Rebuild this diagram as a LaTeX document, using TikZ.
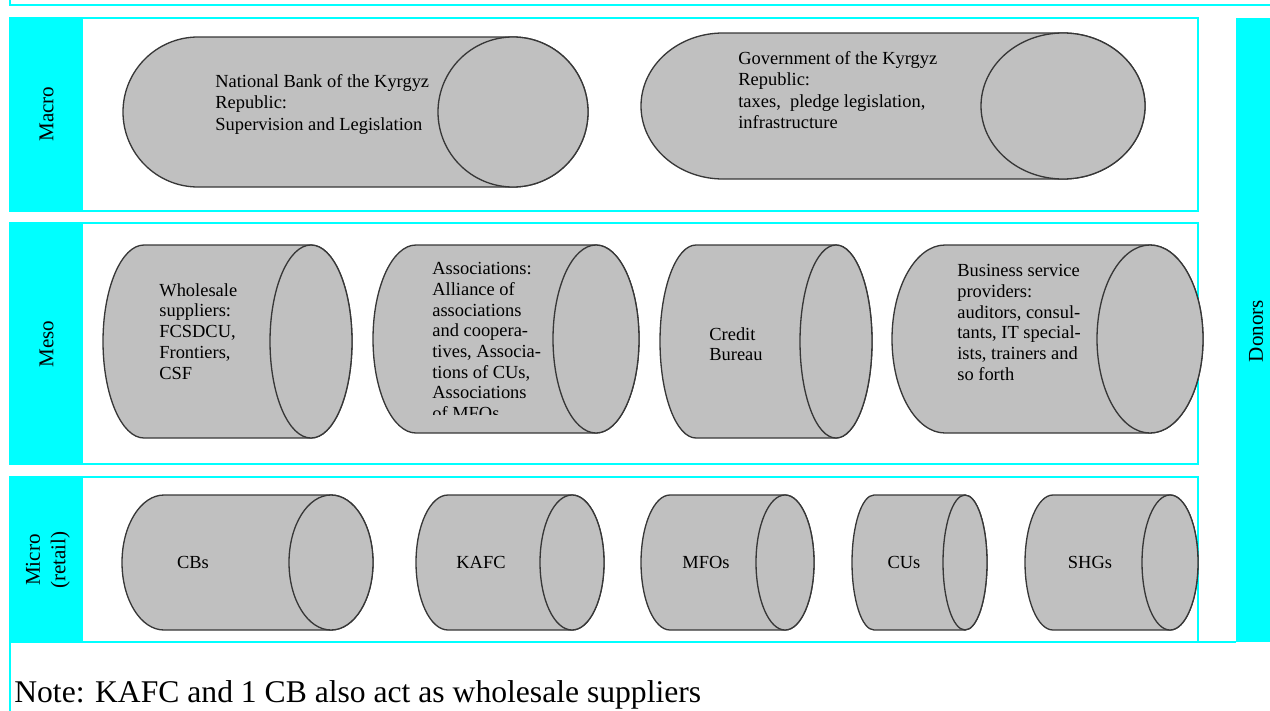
\documentclass[tikz,border=0pt]{standalone}
\usepackage{fontspec}
\setmainfont{Liberation Serif}
\usetikzlibrary{positioning}
\definecolor{cyanVif}{RGB}{0,255,255}
\definecolor{grisFut}{RGB}{192,192,192}
\definecolor{grisTrait}{RGB}{55,55,55}

% cylindre couche : bord gauche, bord droit, centre y, rayon x, rayon y
\newcommand{\cylindre}[5]{%
  \filldraw[tube] (#2-#4,#3-#5) -- (#1+#4,#3-#5)
    arc[start angle=270,end angle=90,x radius=#4,y radius=#5]
    -- (#2-#4,#3+#5)
    arc[start angle=90,end angle=-90,x radius=#4,y radius=#5] -- cycle;
  \draw[tube] (#2-#4,#3) ellipse[x radius=#4,y radius=#5];}

\begin{document}
\begin{tikzpicture}[x=0.02cm, y=-0.02cm,
  cadre/.style={draw=cyanVif, line width=1.1pt},
  bande/.style={fill=cyanVif},
  tube/.style={fill=grisFut, draw=grisTrait, line width=0.75pt},
  etiq/.style={rotate=90, align=center, inner sep=0pt,
               font=\fontsize{12}{14.5}\selectfont},
  texte/.style={anchor=north west, inner sep=0pt, align=left,
                font=\fontsize{10.5}{11.8}\selectfont},
  court/.style={inner sep=0pt, font=\fontsize{10.5}{12}\selectfont}]

  \useasboundingbox (0,0) rectangle (1270,710);

  % bord du cadre precedent
  \draw[cadre] (10,-5) -- (10,5) -- (1280,5);

  % bandes
  \fill[bande] (10,18) rectangle (83,211);
  \fill[bande] (10,223) rectangle (83,464);
  \fill[bande] (10,477) rectangle (83,642);
  \fill[bande] (1236,18) rectangle (1290,642);

  % niveaux
  \draw[cadre] (10,18) rectangle (1198,211);
  \draw[cadre] (10,223) rectangle (1198,464);
  \draw[cadre] (10,477) rectangle (1198,642);
  \draw[cadre] (10,720) -- (10,642) -- (1236,642);

  \node[etiq] (macro) at (46.5,114) {Macro};
  \node[etiq] (meso) at (46.5,344) {Meso};
  \node[etiq] (micro) at (48,560) {Micro\\(retail)};
  \node[etiq] (donors) at (1256,331) {Donors};

  % Macro
  \cylindre{123}{588}{112}{75}{75}
  \cylindre{641}{1145}{106}{82}{73}
  \node[texte, font=\fontsize{10.5}{12.2}\selectfont] (banque) at (215,74)
    {National Bank of the Kyrgyz\\Republic:\\Supervision and Legislation};
  \node[texte, font=\fontsize{10.5}{12.2}\selectfont] (gouv) at (738,51)
    {Government of the Kyrgyz\\Republic:\\taxes, \ pledge legislation,\\infrastructure};

  % Meso
  \cylindre{103}{352}{341.5}{41}{96.5}
  \cylindre{373}{639}{339}{43}{94}
  \cylindre{660}{872}{341.5}{36}{96.5}
  \cylindre{892}{1203}{339}{53}{94}
  \node[texte] (gros) at (159,283)
    {Wholesale\\suppliers:\\FCSDCU,\\Frontiers,\\CSF};
  \begin{scope}
    \clip (373,240) rectangle (640,414);
    \node[texte] (assoc) at (432,262)
      {Associations:\\Alliance of\\associations\\and coopera-\\tives, Associa-\\tions of CUs,\\Associations\\of MFOs};
  \end{scope}
  \node[texte] (credit) at (709,327) {Credit\\Bureau};
  \node[texte] (services) at (957,264)
    {Business service\\providers:\\auditors, consul-\\tants, IT special-\\ists, trainers and\\so forth};

  % Micro
  \cylindre{122}{373}{562.5}{42}{67.5}
  \cylindre{416}{604}{562.5}{32}{67.5}
  \cylindre{641}{814}{562.5}{29}{67.5}
  \cylindre{852}{987}{562.5}{22}{67.5}
  \cylindre{1025}{1198}{562.5}{28}{67.5}
  \node[court] (cb) at (193,562) {CBs};
  \node[court] (kafc) at (481,562) {KAFC};
  \node[court] (mfo) at (706,562) {MFOs};
  \node[court] (cu) at (904,562) {CUs};
  \node[court] (shg) at (1090,562) {SHGs};

  \node[anchor=base west, inner sep=0pt, font=\fontsize{18}{21}\selectfont]
    (note) at (14,702) {Note: KAFC and 1 CB also act as wholesale suppliers};
\end{tikzpicture}
\end{document}
